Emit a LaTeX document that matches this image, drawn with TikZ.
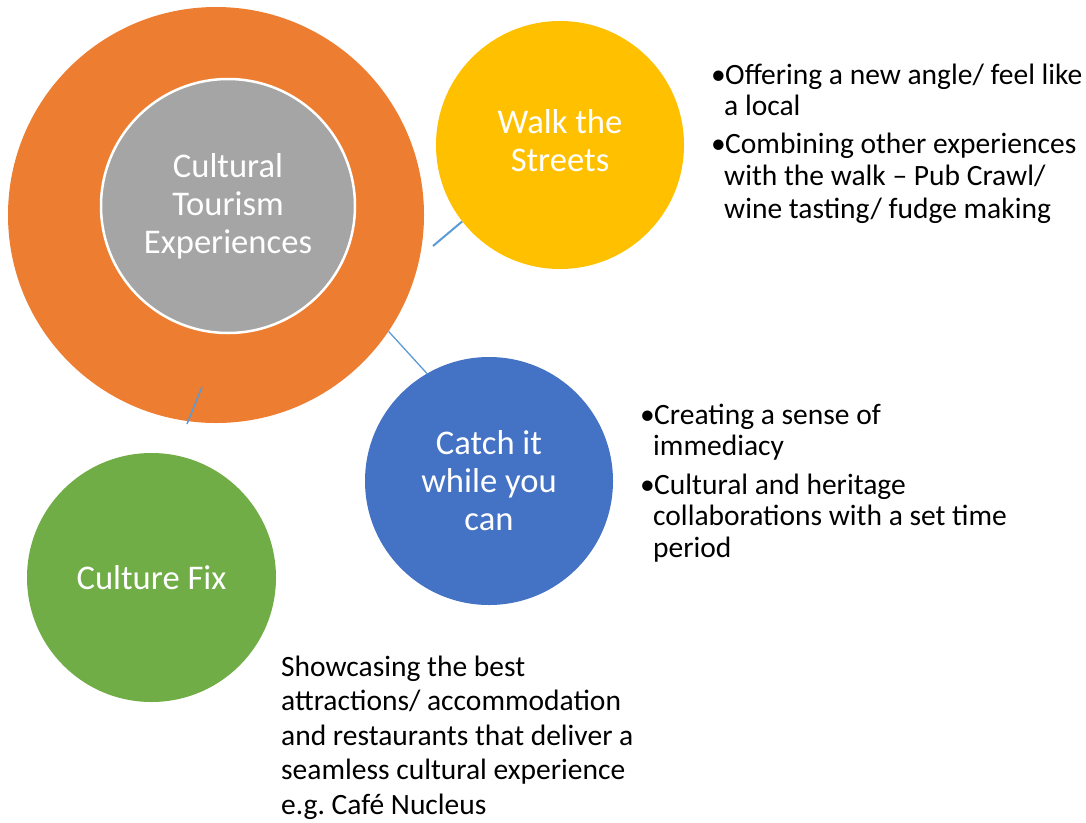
\documentclass[tikz,border=0pt]{standalone}
\usepackage{fontspec}
\setmainfont{Carlito}
\frenchspacing
\definecolor{orng}{HTML}{ED7D31}
\definecolor{gry}{HTML}{A5A5A5}
\definecolor{yel}{HTML}{FFC000}
\definecolor{blu}{HTML}{4472C4}
\definecolor{grn}{HTML}{70AD47}
\definecolor{linkblue}{HTML}{5B9BD5}
\newcommand{\bul}{\makebox[14pt][l]{•}}
\newcommand{\ind}{\hspace*{13pt}}
\begin{document}
\begin{tikzpicture}[x=1pt,y=-1pt,
  disc/.style={circle, inner sep=0pt, minimum size=#1, text=white, align=center,
    font=\fontsize{34.6}{38}\selectfont},
  conn/.style={draw=linkblue, line width=#1},
  side/.style={anchor=north west, inner sep=0pt, align=left, text=black}]
\useasboundingbox (0,0) rectangle (1086,822);
% circles
\node[disc=416pt, fill=orng] (outer) at (216,215) {};
\node[disc=254pt, fill=gry, draw=white, line width=2.5pt] (core) at (228,206) {Cultural\\Tourism\\Experiences};
\node[disc=248pt, fill=yel] (walk) at (560,145) {};
\node[text=white, align=center, font=\fontsize{34.6}{38}\selectfont] (walkt) at (560,141) {Walk the\\Streets};
\node[disc=248pt, fill=blu] (catch) at (489,481) {Catch it\\while you\\can};
\node[disc=249pt, fill=grn] (fix) at (151.5,577.5) {Culture Fix};
% connectors
\coordinate (c1) at (433,246);
\draw[conn=2pt] (c1) -- (walk.218.5);
\draw[conn=1.3pt] (outer.-34.6) -- (catch.120.2);
\coordinate (c3a) at (202,387);
\coordinate (c3b) at (187,424);
\draw[conn=1.5pt] (c3a) -- (c3b);
% side texts
\node[side, font=\fontsize{29.5}{31}\selectfont] (w1) at (711,63.5)
  {\bul Offering a new angle/ feel like\\\ind a local};
\node[side, font=\fontsize{29.5}{32.5}\selectfont] (w2) at (711,132.5)
  {\bul Combining other experiences\\\ind with the walk – Pub Crawl/\\\ind wine tasting/ fudge making};
\node[side, font=\fontsize{29.5}{31}\selectfont] (k1) at (640,403.5)
  {\bul Creating a sense of\\\ind immediacy};
\node[side, font=\fontsize{29.5}{31.5}\selectfont] (k2) at (640,473.5)
  {\bul Cultural and heritage\\\ind collaborations with a set time\\\ind period};
\node[side, font=\fontsize{29.5}{34.5}\selectfont] (f1) at (281,655.5)
  {Showcasing the best\\attractions/ accommodation\\and restaurants that deliver a\\seamless cultural experience\\e.g. Café Nucleus};
\end{tikzpicture}
\end{document}
